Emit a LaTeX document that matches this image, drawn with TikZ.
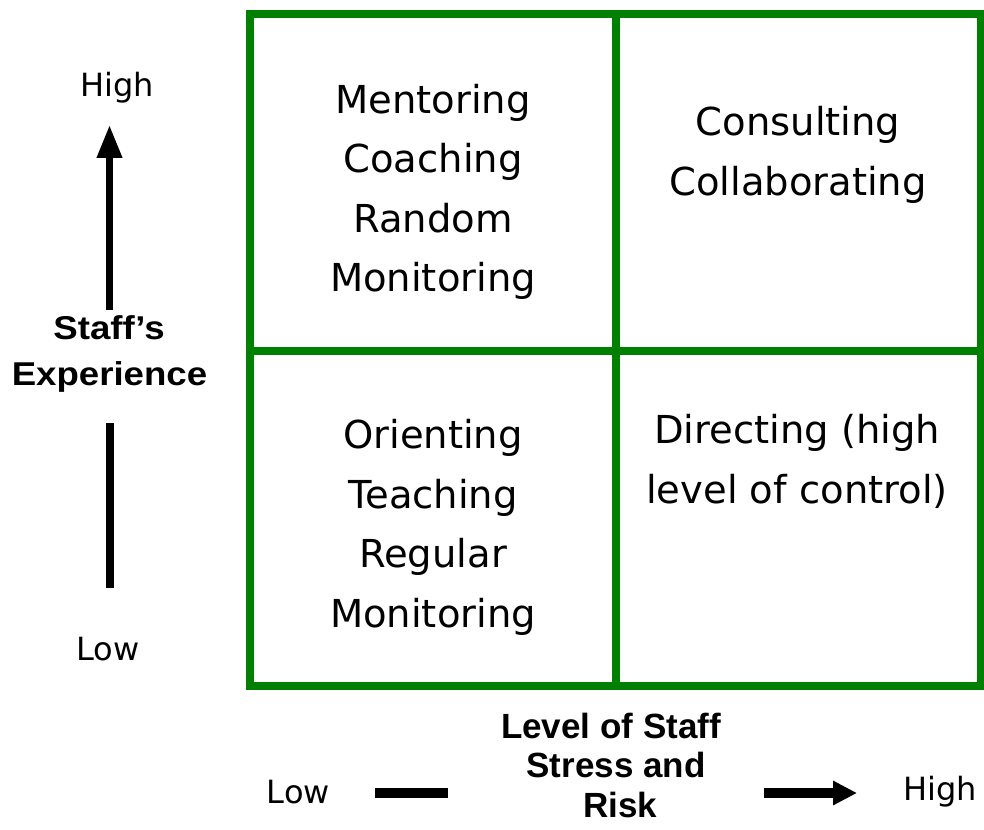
\documentclass[tikz,border=0pt]{standalone}
\usepackage{fontspec}
\setmainfont{DejaVu Sans}
\newfontfamily\labelfont{Liberation Sans}
\newfontfamily\wlabelfont[FakeStretch=1.11]{Liberation Sans}
\usetikzlibrary{arrows.meta}
\definecolor{boxgreen}{RGB}{0,128,0}
\tikzset{
  grid/.style={draw=boxgreen, line width=8pt},
  quad/.style={align=center, inner sep=0pt, anchor=base,
    font=\fontsize{38.5}{59.5}\selectfont},
  endlabel/.style={anchor=base, inner sep=0pt, font=\fontsize{32}{38}\selectfont},
  axislabel/.style={anchor=base, inner sep=0pt, font=\labelfont\bfseries\fontsize{35}{40}\selectfont},
  waxislabel/.style={anchor=base, inner sep=0pt, font=\wlabelfont\bfseries\fontsize{33}{40}\selectfont},
  thickbar/.style={line width=#1, black},
}
\begin{document}
\begin{tikzpicture}[x=1pt, y=-1pt]
\useasboundingbox (0,0) rectangle (984,829);
% grid
\draw[grid] (250,14) rectangle (980.5,686);
\draw[grid] (616,14) -- (616,686);
\draw[grid] (250,351) -- (980.5,351);
% quadrant texts (anchored at the baseline of their last line)
\node[quad] (q1) at (433,291.5) {Mentoring\\Coaching\\Random\\Monitoring};
\node[quad] (q2) at (798,195) {Consulting\\Collaborating};
\node[quad] (q3) at (433,627) {Orienting\\Teaching\\Regular\\Monitoring};
\node[quad] (q4) at (797,503) {Directing (high\\level of control)};
% vertical axis
\node[endlabel] (yhigh) at (117,97) {High};
\node[endlabel] (ylow) at (108,660) {Low};
\node[waxislabel] (ylab1) at (109,339) {Staff’s};
\node[waxislabel] (ylab2) at (109.5,385) {Experience};
\coordinate (ya) at (109.5,310);
\coordinate (yb) at (109.5,125);
\coordinate (yc) at (109.5,423);
\coordinate (yd) at (109.5,588);
\draw[thickbar=7pt, -{Triangle[length=33pt,width=24pt]}] (ya) -- (yb);
\draw[thickbar=8pt] (yc) -- (yd);
% horizontal axis
\node[endlabel] (xlow) at (298.5,803) {Low};
\node[endlabel] (xhigh) at (940,800) {High};
\node[axislabel] (xlab1) at (611,738) {Level of Staff};
\node[axislabel] (xlab2) at (616,777) {Stress and};
\node[axislabel] (xlab3) at (620,817) {Risk};
\coordinate (xa) at (375,793);
\coordinate (xb) at (448,793);
\coordinate (xc) at (764,793);
\coordinate (xd) at (857,793);
\draw[thickbar=10pt] (xa) -- (xb);
\draw[thickbar=10pt, -{Triangle[length=24pt,width=23pt]}] (xc) -- (xd);
\end{tikzpicture}
\end{document}
